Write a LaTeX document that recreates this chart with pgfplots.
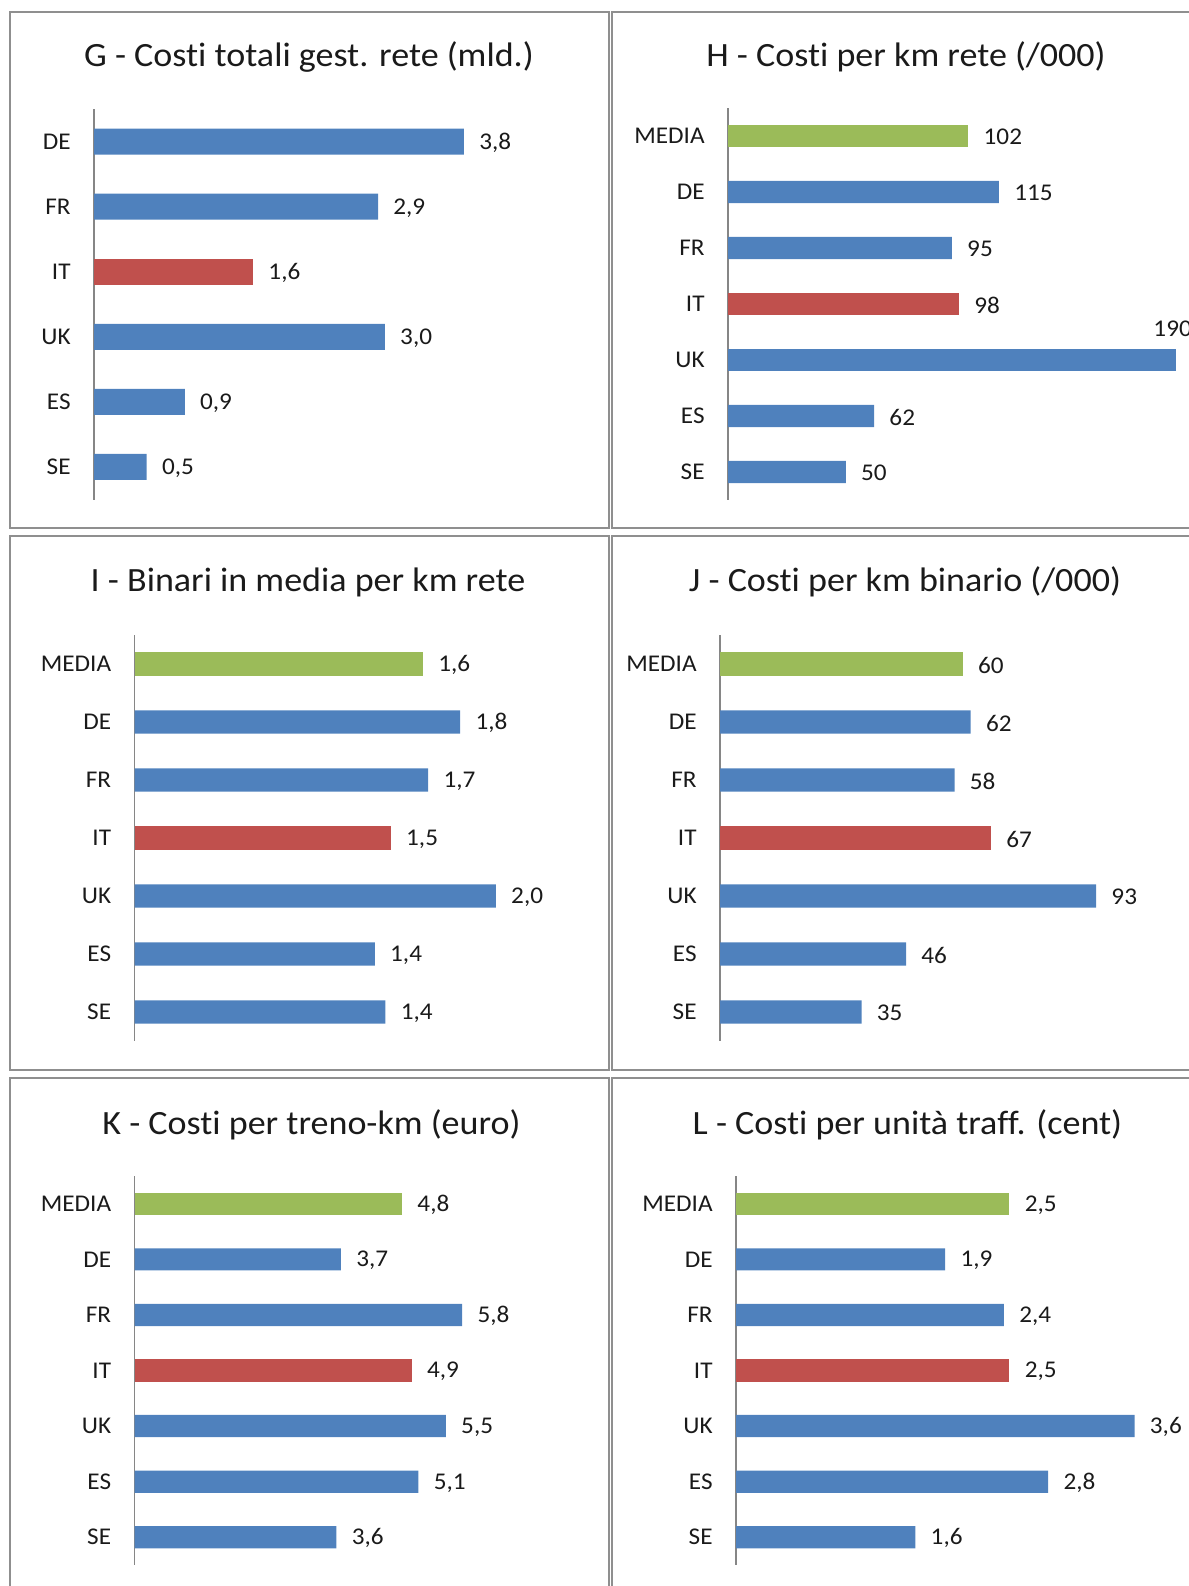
\documentclass[border=0pt]{standalone}
\usepackage{pgfplots}
\pgfplotsset{compat=1.18}
\usepackage{fontspec}
\setmainfont[Ligatures=NoCommon]{Carlito}
\newfontfamily\lblfam[Ligatures=NoCommon, FakeStretch=1.05]{Carlito}
\newfontfamily\ttlfam[Ligatures=NoCommon, FakeStretch=1.06]{Carlito}
\definecolor{cblue}{HTML}{4F81BD}
\definecolor{cred}{HTML}{C0504D}
\definecolor{cgreen}{HTML}{9BBB59}
\definecolor{cframe}{HTML}{8F8F8F}
\definecolor{caxis}{HTML}{868686}
\definecolor{ctext}{HTML}{1A1A1A}
\newcommand{\lblfont}{\lblfam\fontsize{12}{14}\selectfont}
\newcommand{\ttlfont}{\ttlfam\fontsize{17}{20}\selectfont}
\pgfplotsset{
  panel/.style={
    scale only axis, anchor=north west,
    xbar, bar width=0.4, bar shift=0pt,
    xmin=0, y dir=reverse,
    axis y line*=left, axis x line=none,
    y axis line style={caxis, line width=0.75pt},
    xtick=\empty, major tick length=0pt,
    yticklabel style={font=\lblfont, text=ctext, anchor=east, inner sep=0pt, xshift=-11.5pt},
    clip=false,
    point meta=explicit symbolic,
    nodes near coords,
    nodes near coords align=horizontal,
    every node near coord/.append style={font=\lblfont, text=ctext, anchor=west, inner sep=0pt, xshift=7.5pt, yshift=-0.6pt},
  },
  six/.style={ymin=-0.5, ymax=5.5, ytick={0,...,5}, yticklabels={DE,FR,IT,UK,ES,SE}},
  seven/.style={ymin=-0.5, ymax=6.5, ytick={0,...,6}, yticklabels={MEDIA,DE,FR,IT,UK,ES,SE}},
}
\begin{document}
\begin{tikzpicture}
\useasboundingbox (0,0) rectangle (594.5pt,-793pt);
\clip (0,0) rectangle (594.5pt,-793pt);
% panel frames
\begin{scope}[cframe, line width=1.25pt]
\draw (5pt,-6pt) rectangle (304.5pt,-264pt);
\draw (306pt,-6pt) rectangle (607.5pt,-264pt);
\draw (5pt,-268pt) rectangle (304.5pt,-535pt);
\draw (306pt,-268pt) rectangle (607.5pt,-535pt);
\draw (5pt,-539pt) rectangle (304.5pt,-800pt);
\draw (306pt,-539pt) rectangle (607.5pt,-800pt);
\end{scope}
% titles
\begin{scope}[every node/.style={font=\ttlfont, text=ctext, anchor=base}]
\node at (154.5pt,-33pt) {G - Costi totali gest. rete (mld.)};
\node at (453pt,-33pt) {H - Costi per km rete (/000)};
\node at (154pt,-295.5pt) {I - Binari in media per km rete};
\node at (452.5pt,-295.5pt) {J - Costi per km binario (/000)};
\node at (155.75pt,-567.25pt) {K - Costi per treno-km (euro)};
\node at (453.75pt,-567.25pt) {L - Costi per unità traff. (cent)};
\end{scope}

% G
\begin{axis}[panel, six, at={(47pt,-54.5pt)}, xmax=4, width=195.2pt, height=195.25pt]
\addplot[fill=cblue, draw=none] coordinates {(3.79,0) [3{,}8] (2.91,1) [2{,}9] (2.98,3) [3{,}0] (0.93,4) [0{,}9] (0.54,5) [0{,}5]};
\addplot[fill=cred, draw=none] coordinates {(1.63,2) [1{,}6]};
\end{axis}

% H
\begin{axis}[panel, seven, at={(364pt,-54pt)}, xmax=200, width=235.6pt, height=196pt]
\addplot[fill=cgreen, draw=none] coordinates {(102,0) [102]};
\addplot[fill=cblue, draw=none] coordinates {(115,1) [115] (95,2) [95] (62,5) [62] (50,6) [50]};
\addplot[fill=cred, draw=none] coordinates {(98,3) [98]};
\addplot[fill=cblue, draw=none, every node near coord/.append style={anchor=base, xshift=-9pt, yshift=12.6pt}] coordinates {(190,4) [190]};
\end{axis}

% I
\begin{axis}[panel, seven, at={(67.25pt,-317.5pt)}, xmax=2.5, width=222.5pt, height=203pt]
\addplot[fill=cgreen, draw=none] coordinates {(1.62,0) [1{,}6]};
\addplot[fill=cblue, draw=none] coordinates {(1.83,1) [1{,}8] (1.65,2) [1{,}7] (2.03,4) [2{,}0] (1.35,5) [1{,}4] (1.41,6) [1{,}4]};
\addplot[fill=cred, draw=none] coordinates {(1.44,3) [1{,}5]};
\end{axis}

% J
\begin{axis}[panel, seven, at={(360pt,-317.5pt)}, xmax=100, width=202.2pt, height=203pt]
\addplot[fill=cgreen, draw=none] coordinates {(60,0) [60]};
\addplot[fill=cblue, draw=none] coordinates {(62,1) [62] (58,2) [58] (93,4) [93] (46,5) [46] (35,6) [35]};
\addplot[fill=cred, draw=none] coordinates {(67,3) [67]};
\end{axis}

% K
\begin{axis}[panel, seven, at={(67.25pt,-588pt)}, xmax=7, width=196.35pt, height=194.5pt]
\addplot[fill=cgreen, draw=none] coordinates {(4.77,0) [4{,}8]};
\addplot[fill=cblue, draw=none] coordinates {(3.68,1) [3{,}7] (5.84,2) [5{,}8] (5.55,4) [5{,}5] (5.06,5) [5{,}1] (3.60,6) [3{,}6]};
\addplot[fill=cred, draw=none] coordinates {(4.94,3) [4{,}9]};
\end{axis}

% L
\begin{axis}[panel, seven, at={(368pt,-588pt)}, xmax=4, width=221.4pt, height=194.5pt]
\addplot[fill=cgreen, draw=none] coordinates {(2.47,0) [2{,}5]};
\addplot[fill=cblue, draw=none] coordinates {(1.89,1) [1{,}9] (2.42,2) [2{,}4] (3.60,4) [3{,}6] (2.82,5) [2{,}8] (1.62,6) [1{,}6]};
\addplot[fill=cred, draw=none] coordinates {(2.47,3) [2{,}5]};
\end{axis}
\end{tikzpicture}
\end{document}
